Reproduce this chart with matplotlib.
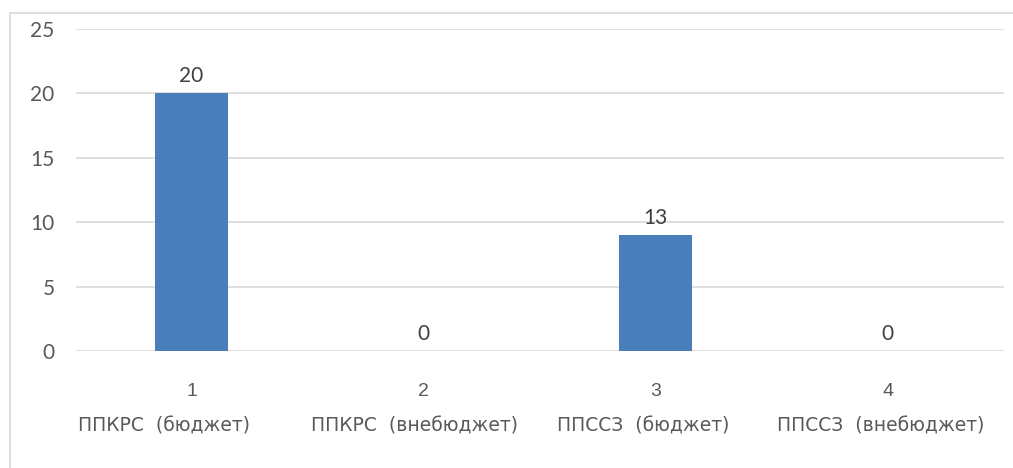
import matplotlib
matplotlib.use("Agg")
import matplotlib.pyplot as plt
from matplotlib.patches import Rectangle

categories = ["1", "2", "3", "4"]
names = ["ППКРС  (бюджет)", "ППКРС  (внебюджет)", "ППССЗ  (бюджет)", "ППССЗ  (внебюджет)"]
bar_heights = [20, 0, 9, 0]
value_labels = ["20", "0", "13", "0"]
yticks = [0, 5, 10, 15, 20, 25]

W, H = 1013, 468
fig = plt.figure(figsize=(W / 100, H / 100), dpi=100)
fig.patch.set_facecolor("white")

# outer frame (right and bottom edges fall outside the picture)
fig.patches.append(Rectangle((10 / W, -10 / H), 1010 / W, (H - 13 + 10) / H,
                             transform=fig.transFigure, fill=False,
                             edgecolor="#d9d9d9", linewidth=1.2))

ax = fig.add_axes([75.5 / W, 1 - 351 / H, 928 / W, (351 - 29) / H])
x = list(range(len(categories)))
ax.bar(x, bar_heights, width=0.315, color="#4a7ebb", zorder=3)
ax.set_xlim(-0.5, len(categories) - 0.5)
ax.set_ylim(0, 25)
ax.set_yticks(yticks)
ax.set_yticklabels([str(t) for t in yticks], fontsize=15, color="#595959", family="Lato")
ax.tick_params(axis="y", length=0, pad=15)
ax.yaxis.grid(True, color="#d9d9d9", linewidth=1.2, zorder=0)
ax.set_xticks(x)
ax.set_xticklabels(categories, fontsize=14, color="#595959", family="Liberation Sans")
ax.tick_params(axis="x", length=0, pad=23)
for s in ax.spines.values():
    s.set_visible(False)

for xi, h, lab in zip(x, bar_heights, value_labels):
    ax.annotate(lab, (xi, h), xytext=(0, 12.5), textcoords="offset points",
                ha="center", va="center", fontsize=15, color="#404040", family="Lato")

name_offsets = [-0.12, -0.04, -0.054, -0.03]
for xi, nm, off in zip(x, names, name_offsets):
    ax.text(xi + off, -5.85, nm, ha="center", va="center", fontsize=13.5,
            color="#595959", family="DejaVu Sans", clip_on=False)

fig.savefig("out.png", dpi=100, facecolor="white")
